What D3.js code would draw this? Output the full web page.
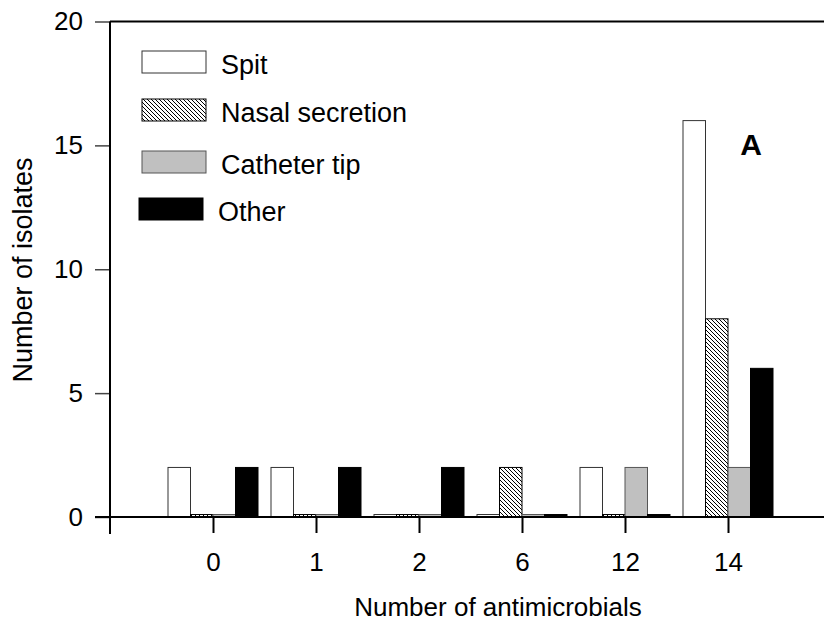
<!DOCTYPE html>
<html>
<head>
<meta charset="utf-8">
<script src="https://cdn.jsdelivr.net/npm/d3@7"></script>
<style>
    body { margin: 0; background: white; }
    text { font-family: Arial, "Liberation Sans", sans-serif; fill: black; }
</style>
</head>
<body>
<div id="chart"></div>
<script>
const categories = ["0", "1", "2", "6", "12", "14"]
const seriesNames = ["Spit", "Nasal secretion", "Catheter tip", "Other"]
// stubs of 0.1 are the tiny bars the original draws for empty cells
const spit = [2, 2, 0.1, 0.1, 2, 16]
const nasal = [0.1, 0.1, 0.1, 2, 0.1, 8]
const catheter = [0.1, 0.1, 0.1, 0.1, 2, 2]
const other = [2, 2, 2, 0.1, 0.1, 6]
const yTicks = [0, 5, 10, 15, 20]

const width = 824, height = 623
const plotLeft = 110, plotBottom = 517, plotTop = 21.5
const fontSize = 26

const styles = [
    {fill: "white", stroke: "#333"},
    {fill: "url(#hatch)", stroke: "black"},
    {fill: "#c0c0c0", stroke: "#555"},
    {fill: "black", stroke: "black"}
]

const svg = d3.select("#chart").append("svg")
    .attr("width", width)
    .attr("height", height)

const pat = svg.append("defs").append("pattern")
    .attr("id", "hatch")
    .attr("patternUnits", "userSpaceOnUse")
    .attr("width", 4)
    .attr("height", 4)
pat.append("rect").attr("width", 4).attr("height", 4).attr("fill", "white")
pat.append("path")
    .attr("d", "M0,0 L4,4 M-1,3 L1,5 M3,-1 L5,1")
    .attr("stroke", "black")
    .attr("stroke-width", 1)

const y = d3.scaleLinear().domain([0, 20]).range([plotBottom, plotTop])
const x = d3.scalePoint().domain(categories).range([213, 728])
const xInner = d3.scaleBand().domain(seriesNames).range([-45, 45])

const table = [spit, nasal, catheter, other]

// bars
table.forEach((vals, s) => {
    svg.append("g")
        .selectAll("rect")
        .data(vals)
        .join("rect")
            .attr("x", (d, i) => x(categories[i]) + xInner(seriesNames[s]))
            .attr("y", d => y(d))
            .attr("width", xInner.bandwidth())
            .attr("height", d => plotBottom - y(d))
            .attr("fill", styles[s].fill)
            .attr("stroke", styles[s].stroke)
            .attr("stroke-width", 1)
})

// y axis
const yAxis = svg.append("g")
    .attr("transform", `translate(${plotLeft},0)`)
    .call(d3.axisLeft(y).tickValues(yTicks).tickSize(15).tickPadding(12))
yAxis.select(".domain").remove()
yAxis.selectAll(".tick line").attr("stroke", "#444").attr("stroke-width", 1.5)
yAxis.selectAll(".tick text").attr("font-size", fontSize).attr("font-family", "Arial, 'Liberation Sans', sans-serif")

// x axis
const xAxis = svg.append("g")
    .attr("transform", `translate(0,${plotBottom})`)
    .call(d3.axisBottom(x).tickSize(16).tickPadding(20))
xAxis.select(".domain").remove()
xAxis.selectAll(".tick line").attr("stroke", "black").attr("stroke-width", 2)
xAxis.selectAll(".tick text").attr("font-size", fontSize).attr("font-family", "Arial, 'Liberation Sans', sans-serif")

// axis lines
svg.append("line")
    .attr("x1", plotLeft).attr("x2", plotLeft)
    .attr("y1", plotTop).attr("y2", plotBottom + 17)
    .attr("stroke", "black").attr("stroke-width", 2)
svg.append("line")
    .attr("x1", 95).attr("x2", width)
    .attr("y1", plotBottom).attr("y2", plotBottom)
    .attr("stroke", "black").attr("stroke-width", 2)
svg.append("line")
    .attr("x1", plotLeft).attr("x2", width)
    .attr("y1", plotTop).attr("y2", plotTop)
    .attr("stroke", "black").attr("stroke-width", 2)

// titles
svg.append("text")
    .attr("x", 498).attr("y", 616)
    .attr("text-anchor", "middle")
    .attr("font-size", fontSize)
    .text("Number of antimicrobials")
svg.append("text")
    .attr("transform", "translate(32,270) rotate(-90)")
    .attr("text-anchor", "middle")
    .attr("font-size", 27)
    .text("Number of isolates")
svg.append("text")
    .attr("x", 751).attr("y", 155)
    .attr("text-anchor", "middle")
    .attr("font-size", 30)
    .attr("font-weight", "bold")
    .text("A")

// legend
const legendY = [51, 99, 151, 198]
const legend = svg.append("g")
seriesNames.forEach((name, s) => {
    const dx = s == 3 ? -3 : 0
    legend.append("rect")
        .attr("x", 142 + dx).attr("y", legendY[s])
        .attr("width", 64).attr("height", 22)
        .attr("fill", styles[s].fill)
        .attr("stroke", styles[s].stroke)
    legend.append("text")
        .attr("x", 221 + dx).attr("y", legendY[s] + 23)
        .attr("font-size", 27)
        .text(name)
})
</script>
</body>
</html>
